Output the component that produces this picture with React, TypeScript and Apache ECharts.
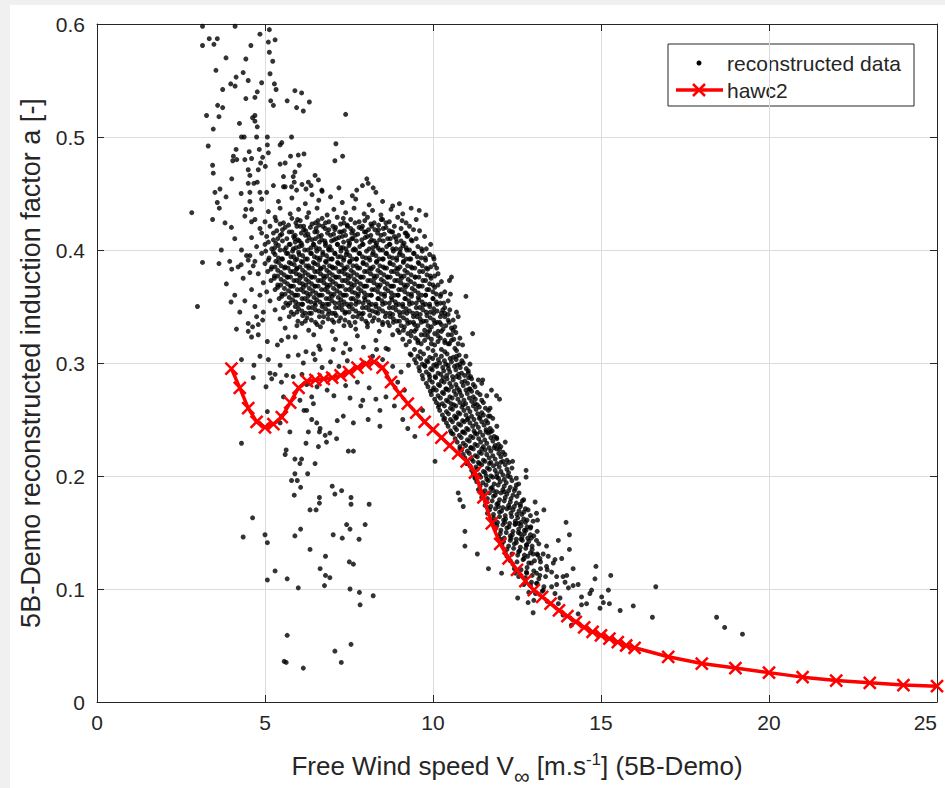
import React, { useEffect, useRef } from "react";
import * as echarts from "echarts";

// ---------------- HAWC2 curve ----------------
const hawcWind = [
  4, 4.25, 4.5, 4.75, 5, 5.25, 5.5, 5.75, 6, 6.25, 6.5, 6.75, 7, 7.25, 7.5, 7.75, 8, 8.25, 8.5, 8.75,
  9, 9.25, 9.5, 9.75, 10, 10.25, 10.5, 10.75, 11, 11.25, 11.5, 11.75, 12, 12.25, 12.5, 12.75, 13, 13.25,
  13.5, 13.75, 14, 14.25, 14.5, 14.75, 15, 15.25, 15.5, 15.75, 16, 17, 18, 19, 20, 21, 22, 23, 24, 25,
];
const hawcA = [
  0.295, 0.278, 0.26, 0.248, 0.243, 0.246, 0.252, 0.265, 0.278, 0.284, 0.285, 0.286, 0.287, 0.289, 0.292,
  0.296, 0.299, 0.301, 0.296, 0.283, 0.273, 0.264, 0.256, 0.248, 0.241, 0.234, 0.227, 0.22, 0.213, 0.203,
  0.181, 0.158, 0.14, 0.127, 0.117, 0.107, 0.099, 0.093, 0.087, 0.081, 0.076, 0.071, 0.066, 0.062, 0.059,
  0.056, 0.053, 0.05, 0.048, 0.04, 0.034, 0.03, 0.026, 0.022, 0.019, 0.017, 0.015, 0.014,
];

// ---------------- reconstructed data ----------------
const sparseUpper: number[][] = [
  [3.14,.598],[4.11,.598],[3.34,.587],[3.58,.587],[3.14,.581],[3.48,.582],[4.85,.591],[5.13,.595],[5.10,.584],[5.30,.586],
  [4.58,.581],[5.13,.575],[3.84,.570],[4.43,.569],[5.23,.567],[3.54,.559],[4.35,.557],[5.15,.556],[4.14,.553],[4.50,.550],
  [3.98,.547],[4.11,.545],[4.90,.548],[5.28,.547],[5.33,.542],[3.74,.542],[4.77,.540],[5.89,.541],[6.09,.539],[4.70,.535],
  [4.43,.534],[5.17,.532],[5.25,.528],[5.66,.532],[6.32,.531],[5.94,.526],[6.14,.523],[3.59,.528],[3.74,.526],[3.26,.519],
  [3.63,.518],[4.63,.517],[4.70,.519],[4.70,.514],[4.77,.509],[4.24,.512],[3.46,.507],[7.40,.520],[4.30,.500],[4.38,.500],
  [4.75,.500],[5.07,.500],[5.79,.500],[3.31,.492],[4.14,.489],[4.53,.487],[4.83,.489],[5.07,.493],[5.45,.493],[5.50,.495],
  [4.06,.483],[4.16,.480],[4.04,.479],[4.40,.480],[4.60,.481],[4.93,.482],[5.10,.486],[5.76,.483],[5.99,.484],[6.16,.485],
  [7.11,.494],[7.08,.479],[7.31,.483],[3.44,.475],[3.46,.468],[4.50,.471],[4.80,.471],[4.87,.477],[5.01,.474],[5.45,.476],
  [5.60,.477],[5.89,.469],[6.02,.475],[4.01,.463],[4.55,.466],[4.50,.459],[4.67,.459],[4.77,.460],[5.55,.465],[5.84,.465],
  [5.87,.460],[6.29,.460],[6.49,.466],[6.59,.462],[8.03,.463],[8.07,.459],[8.22,.455],[3.51,.451],[3.66,.454],[4.29,.450],
  [4.55,.451],[4.85,.451],[5.05,.451],[5.25,.457],[5.55,.456],[5.79,.456],[5.94,.453],[6.22,.454],[6.37,.457],[6.69,.453],
  [7.73,.453],[2.82,.433],[3.58,.442],[3.64,.437],[3.84,.447],[3.44,.427],[3.81,.424],[4.43,.436],[4.55,.443],[9.59,.435],
  [9.79,.431],
];

const leftFringe: number[][] = [
  [2.99,.350],[3.14,.389],[3.63,.388],[3.99,.354],[4.01,.383],[4.29,.387],[4.50,.391],[4.30,.303],[4.67,.298],[4.65,.287],
  [4.30,.229],[5.03,.279],[5.15,.291],[5.07,.257],[4.60,.323],[4.63,.332],[4.50,.328],[4.80,.334],[4.75,.341],[4.93,.338],
  [5.07,.319],[5.37,.316],[5.49,.320],[5.69,.323],[4.10,.410],[4.30,.400],[4.45,.395],[4.20,.385],[3.95,.390],[4.35,.375],
  [4.55,.380],[4.10,.360],[4.40,.355],[4.60,.365],[4.25,.345],[4.70,.350],[4.50,.335],[4.80,.325],[4.15,.330],[3.85,.370],
  [3.70,.400],[4.00,.420],[4.60,.425],[4.85,.360],[4.95,.345],[4.70,.390],[4.90,.415],[4.40,.430],
];

const coreCloud: number[][] = [
  [5.6,.456],[6.1,.458],[6.7,.452],[7.2,.455],[7.9,.457],[8.3,.451],[6.4,.449],[7.6,.448],
  [4.9,.445],[5.4,.443],[5.8,.446],[6.2,.441],[6.6,.444],[6.95,.447],[7.3,.442],[7.7,.445],[8.1,.440],[8.5,.443],[8.8,.439],[9.0,.441],
  [4.6,.436],[5.1,.434],[5.45,.437],[5.75,.432],[6.0,.436],[6.3,.433],[6.55,.437],[6.85,.431],[7.05,.436],[7.4,.433],[7.65,.437],[7.95,.432],[8.2,.435],[8.45,.431],[8.75,.436],[9.1,.432],[9.35,.437],
  [4.7,.427],[5.0,.425],[5.3,.429],[5.55,.424],[5.8,.428],[6.05,.426],[6.25,.429],[6.5,.424],[6.7,.428],[6.9,.425],[7.15,.429],[7.35,.424],[7.55,.427],[7.8,.425],[8.05,.429],[8.25,.424],[8.5,.427],[8.7,.425],[8.95,.429],[9.2,.424],[9.5,.427],
  [4.85,.419],[5.15,.421],[5.35,.417],[5.6,.420],[5.8,.416],[5.95,.421],[6.15,.418],[6.35,.420],[6.55,.416],[6.72,.421],[6.9,.418],[7.1,.420],[7.28,.416],[7.45,.421],[7.62,.417],[7.8,.420],[8.0,.416],[8.18,.421],[8.38,.418],[8.6,.420],[8.8,.416],[9.05,.419],[9.3,.421],[9.6,.417],
  [4.6,.411],[5.05,.412],[5.25,.409],[5.45,.413],[5.65,.410],[5.85,.412],[6.02,.408],[6.2,.413],[6.4,.409],[6.6,.412],[6.78,.408],[6.95,.413],[7.12,.410],[7.3,.412],[7.48,.408],[7.68,.413],[7.88,.409],[8.05,.412],[8.25,.408],[8.45,.413],[8.65,.410],[8.85,.412],[9.05,.408],[9.25,.413],[9.5,.410],[9.75,.412],
  [4.75,.403],[5.0,.405],[5.2,.401],[5.4,.404],[5.58,.400],[5.75,.405],[5.92,.402],[6.1,.404],[6.28,.400],[6.45,.405],[6.62,.401],[6.8,.404],[6.98,.400],[7.15,.405],[7.32,.402],[7.5,.404],[7.7,.400],[7.9,.405],[8.1,.401],[8.3,.404],[8.5,.400],[8.7,.405],[8.9,.401],[9.1,.404],[9.3,.400],[9.55,.403],[9.8,.401],
  [4.55,.395],[4.9,.397],[5.12,.393],[5.3,.396],[5.5,.392],[5.68,.397],[5.85,.394],[6.02,.396],[6.2,.392],[6.38,.397],[6.55,.393],[6.72,.396],[6.9,.392],[7.08,.397],[7.25,.394],[7.42,.396],[7.6,.392],[7.8,.397],[8.0,.393],[8.2,.396],[8.4,.392],[8.6,.397],[8.8,.393],[9.0,.396],[9.2,.392],[9.42,.397],[9.65,.393],[9.9,.396],
  [4.65,.386],[5.0,.388],[5.2,.385],[5.4,.389],[5.6,.385],[5.78,.388],[5.95,.384],[6.12,.389],[6.3,.386],[6.48,.388],[6.65,.384],[6.82,.389],[7.0,.385],[7.18,.388],[7.35,.384],[7.52,.389],[7.72,.386],[7.92,.388],[8.12,.384],[8.32,.389],[8.52,.385],[8.72,.388],[8.92,.384],[9.12,.389],[9.35,.385],[9.58,.388],[9.8,.384],[10.05,.387],
  [4.8,.379],[5.08,.381],[5.28,.377],[5.48,.380],[5.66,.376],[5.84,.381],[6.02,.378],[6.2,.380],[6.38,.376],[6.56,.381],[6.74,.377],[6.92,.380],[7.1,.376],[7.28,.381],[7.46,.378],[7.64,.380],[7.84,.376],[8.04,.381],[8.24,.377],[8.44,.380],[8.64,.376],[8.84,.381],[9.04,.377],[9.24,.380],[9.46,.376],[9.7,.381],[9.92,.377],[10.15,.379],
  [4.95,.371],[5.18,.373],[5.38,.369],[5.58,.372],[5.76,.368],[5.94,.373],[6.12,.370],[6.3,.372],[6.48,.368],[6.66,.373],[6.84,.369],[7.02,.372],[7.2,.368],[7.38,.373],[7.56,.370],[7.74,.372],[7.94,.368],[8.14,.373],[8.34,.369],[8.54,.372],[8.74,.368],[8.94,.373],[9.14,.369],[9.34,.372],[9.56,.368],[9.78,.373],[10.0,.369],[10.25,.372],
  [5.05,.363],[5.3,.365],[5.5,.361],[5.7,.364],[5.88,.360],[6.06,.365],[6.24,.362],[6.42,.364],[6.6,.360],[6.78,.365],[6.96,.361],[7.14,.364],[7.32,.360],[7.5,.365],[7.68,.362],[7.86,.364],[8.06,.360],[8.26,.365],[8.46,.361],[8.66,.364],[8.86,.360],[9.06,.365],[9.26,.361],[9.46,.364],[9.66,.360],[9.88,.365],[10.1,.361],[10.35,.363],
  [5.15,.355],[5.42,.357],[5.62,.353],[5.82,.356],[6.0,.352],[6.18,.357],[6.36,.354],[6.54,.356],[6.72,.352],[6.9,.357],[7.08,.353],[7.26,.356],[7.44,.352],[7.62,.357],[7.8,.354],[7.98,.356],[8.18,.352],[8.38,.357],[8.58,.353],[8.78,.356],[8.98,.352],[9.18,.357],[9.38,.353],[9.58,.356],[9.78,.352],[10.0,.357],[10.22,.353],[10.45,.355],
  [5.3,.347],[5.55,.349],[5.78,.345],[6.0,.348],[6.2,.344],[6.4,.349],[6.6,.346],[6.8,.348],[7.0,.344],[7.2,.349],[7.4,.345],[7.6,.348],[7.8,.344],[8.0,.349],[8.2,.346],[8.4,.348],[8.6,.344],[8.8,.349],[9.0,.345],[9.2,.348],[9.4,.344],[9.6,.349],[9.8,.345],[10.02,.348],[10.25,.344],[10.5,.347],
  [5.45,.339],[5.72,.341],[5.98,.337],[6.25,.340],[6.5,.336],[6.75,.341],[7.0,.338],[7.25,.340],[7.5,.336],[7.75,.341],[8.0,.337],[8.25,.340],[8.5,.336],[8.72,.341],[8.92,.337],[9.12,.340],[9.32,.336],[9.52,.341],[9.72,.337],[9.92,.340],[10.12,.336],[10.35,.341],[10.6,.338],
  [5.6,.331],[5.95,.333],[6.3,.329],[6.65,.332],[7.0,.328],[7.35,.333],[7.7,.330],[8.05,.332],[8.4,.328],[8.7,.333],[8.95,.329],[9.15,.332],[9.35,.328],[9.55,.333],[9.75,.329],[9.95,.332],[10.15,.328],[10.38,.333],[10.6,.329],
  [5.9,.323],[6.45,.325],[7.1,.321],[7.75,.324],[8.3,.320],[8.8,.325],[9.1,.321],[9.35,.324],[9.55,.320],[9.75,.325],[9.95,.321],[10.15,.324],[10.35,.320],[10.55,.325],[10.8,.322],
  [6.6,.315],[7.4,.317],[8.6,.313],[9.2,.316],[9.45,.312],[9.65,.317],[9.85,.313],[10.05,.316],[10.25,.312],[10.45,.317],[10.65,.313],[10.88,.316],
];

const coreDense: number[][] = [
  [5.45,.423],[5.7,.422],[5.92,.424],[6.15,.421],[6.4,.423],[6.6,.422],[6.8,.424],[7.02,.421],[7.25,.423],[7.45,.422],[7.68,.424],[7.9,.421],[8.15,.423],[8.38,.422],[8.6,.424],[8.85,.421],
  [5.25,.415],[5.5,.414],[5.72,.416],[5.9,.413],[6.08,.415],[6.28,.414],[6.48,.416],[6.68,.413],[6.86,.415],[7.04,.414],[7.22,.416],[7.4,.413],[7.58,.415],[7.76,.414],[7.96,.416],[8.15,.413],[8.35,.415],[8.55,.414],[8.76,.416],[8.98,.413],[9.2,.415],
  [5.1,.407],[5.32,.406],[5.52,.408],[5.72,.405],[5.9,.407],[6.08,.406],[6.26,.408],[6.44,.405],[6.62,.407],[6.8,.406],[6.98,.408],[7.16,.405],[7.34,.407],[7.52,.406],[7.72,.408],[7.92,.405],[8.12,.407],[8.32,.406],[8.52,.408],[8.72,.405],[8.92,.407],[9.14,.406],[9.38,.408],
  [5.02,.399],[5.25,.398],[5.45,.400],[5.64,.397],[5.82,.399],[6.0,.398],[6.18,.400],[6.36,.397],[6.54,.399],[6.72,.398],[6.9,.400],[7.08,.397],[7.26,.399],[7.44,.398],[7.62,.400],[7.82,.397],[8.02,.399],[8.22,.398],[8.42,.400],[8.62,.397],[8.82,.399],[9.02,.398],[9.22,.400],[9.44,.397],[9.68,.399],
  [5.1,.391],[5.32,.390],[5.52,.392],[5.72,.389],[5.9,.391],[6.08,.390],[6.26,.392],[6.44,.389],[6.62,.391],[6.8,.390],[6.98,.392],[7.16,.389],[7.34,.391],[7.52,.390],[7.72,.392],[7.92,.389],[8.12,.391],[8.32,.390],[8.52,.392],[8.72,.389],[8.92,.391],[9.12,.390],[9.34,.392],[9.56,.389],[9.78,.391],
  [5.18,.383],[5.38,.382],[5.58,.384],[5.76,.381],[5.94,.383],[6.12,.382],[6.3,.384],[6.48,.381],[6.66,.383],[6.84,.382],[7.02,.384],[7.2,.381],[7.38,.383],[7.56,.382],[7.76,.384],[7.96,.381],[8.16,.383],[8.36,.382],[8.56,.384],[8.76,.381],[8.96,.383],[9.16,.382],[9.38,.384],[9.6,.381],[9.84,.383],
  [5.28,.375],[5.48,.374],[5.68,.376],[5.86,.373],[6.04,.375],[6.22,.374],[6.4,.376],[6.58,.373],[6.76,.375],[6.94,.374],[7.12,.376],[7.3,.373],[7.48,.375],[7.66,.374],[7.86,.376],[8.06,.373],[8.26,.375],[8.46,.374],[8.66,.376],[8.86,.373],[9.06,.375],[9.26,.374],[9.48,.376],[9.7,.373],[9.94,.375],
  [5.38,.367],[5.58,.366],[5.78,.368],[5.96,.365],[6.14,.367],[6.32,.366],[6.5,.368],[6.68,.365],[6.86,.367],[7.04,.366],[7.22,.368],[7.4,.365],[7.58,.367],[7.78,.366],[7.98,.368],[8.18,.365],[8.38,.367],[8.58,.366],[8.78,.368],[8.98,.365],[9.18,.367],[9.38,.366],[9.6,.368],[9.82,.365],[10.05,.367],
  [5.5,.359],[5.72,.358],[5.92,.360],[6.1,.357],[6.28,.359],[6.46,.358],[6.64,.360],[6.82,.357],[7.0,.359],[7.18,.358],[7.36,.360],[7.56,.357],[7.76,.359],[7.96,.358],[8.16,.360],[8.36,.357],[8.56,.359],[8.76,.358],[8.96,.360],[9.16,.357],[9.36,.359],[9.56,.358],[9.78,.360],[10.0,.357],[10.22,.359],
  [5.68,.351],[5.9,.350],[6.1,.352],[6.3,.349],[6.5,.351],[6.7,.350],[6.9,.352],[7.1,.349],[7.3,.351],[7.5,.350],[7.7,.352],[7.9,.349],[8.1,.351],[8.3,.350],[8.5,.352],[8.7,.349],[8.9,.351],[9.1,.350],[9.3,.352],[9.5,.349],[9.7,.351],[9.9,.350],[10.12,.352],[10.35,.349],
  [5.85,.343],[6.12,.342],[6.38,.344],[6.62,.341],[6.88,.343],[7.12,.342],[7.38,.344],[7.62,.341],[7.88,.343],[8.12,.342],[8.36,.344],[8.58,.341],[8.8,.343],[9.02,.342],[9.22,.344],[9.42,.341],[9.62,.343],[9.82,.342],[10.02,.344],[10.22,.341],[10.45,.343],
  [6.1,.335],[6.55,.334],[7.05,.336],[7.55,.333],[8.05,.335],[8.5,.334],[8.82,.336],[9.05,.333],[9.25,.335],[9.45,.334],[9.65,.336],[9.85,.333],[10.05,.335],[10.25,.334],[10.48,.336],
  [9.0,.327],[9.25,.326],[9.45,.328],[9.65,.325],[9.85,.327],[10.05,.326],[10.25,.328],[10.45,.325],[10.68,.327],
  [9.3,.319],[9.55,.318],[9.75,.320],[9.95,.317],[10.15,.319],[10.35,.318],[10.55,.320],[10.75,.317],
];

const coreFill: number[][] = [
  [6.05,.421],[6.52,.419],[7.08,.418],[7.55,.419],[8.08,.418],[8.52,.419],
  [5.88,.410],[6.31,.411],[6.69,.409],[7.2,.411],[7.61,.410],[7.98,.411],[8.41,.409],[8.9,.410],
  [5.63,.402],[6.02,.403],[6.52,.402],[6.93,.403],[7.41,.401],[7.82,.403],[8.21,.402],[8.62,.403],[9.03,.401],
  [5.77,.394],[6.12,.395],[6.47,.394],[6.83,.395],[7.17,.394],[7.52,.395],[7.9,.394],[8.3,.395],[8.7,.394],[9.1,.395],[9.53,.394],
  [5.48,.386],[5.87,.387],[6.22,.386],[6.57,.387],[6.92,.386],[7.27,.387],[7.62,.386],[8.02,.387],[8.42,.386],[8.82,.387],[9.24,.386],[9.68,.386],
  [5.57,.378],[5.93,.379],[6.29,.378],[6.65,.379],[7.01,.378],[7.37,.379],[7.74,.378],[8.14,.379],[8.54,.378],[8.94,.379],[9.35,.378],[9.82,.378],
  [5.67,.370],[6.03,.371],[6.39,.370],[6.75,.371],[7.11,.370],[7.47,.371],[7.84,.370],[8.24,.371],[8.64,.370],[9.04,.371],[9.45,.370],[9.9,.370],
  [5.79,.362],[6.15,.363],[6.51,.362],[6.87,.363],[7.23,.362],[7.59,.363],[7.96,.362],[8.36,.363],[8.76,.362],[9.16,.363],[9.56,.362],[10.0,.363],
  [5.91,.354],[6.27,.355],[6.63,.354],[6.99,.355],[7.35,.354],[7.71,.355],[8.08,.354],[8.48,.355],[8.88,.354],[9.28,.355],[9.68,.354],[10.1,.354],
  [6.1,.346],[6.5,.347],[6.9,.346],[7.3,.347],[7.7,.346],[8.1,.347],[8.5,.346],[8.9,.347],[9.3,.346],[9.7,.347],[10.12,.346],
  [6.38,.338],[6.88,.339],[7.38,.338],[7.88,.339],[8.38,.338],[8.82,.339],[9.22,.338],[9.62,.339],[10.02,.338],[10.45,.338],
];

const coreExtra: number[][] = [
  [5.33,.426],[5.97,.427],[6.58,.426],[7.33,.428],[7.97,.426],[8.46,.427],[9.08,.426],
  [5.52,.418],[6.21,.417],[6.79,.419],[7.36,.417],[7.87,.419],[8.27,.418],[8.7,.417],[9.42,.418],
  [5.38,.410],[5.98,.409],[6.5,.410],[7.05,.409],[7.58,.410],[8.17,.409],[8.73,.410],[9.35,.409],
  [5.29,.402],[5.84,.401],[6.37,.402],[6.89,.401],[7.25,.402],[7.66,.401],[8.36,.402],[8.8,.401],[9.2,.402],[9.66,.401],
  [5.4,.393],[5.95,.392],[6.64,.393],[7.0,.392],[7.35,.393],[7.72,.392],[8.1,.393],[8.5,.392],[8.92,.393],[9.3,.392],[9.77,.393],
  [5.3,.385],[5.69,.384],[6.04,.385],[6.41,.384],[6.75,.385],[7.1,.384],[7.45,.385],[7.82,.384],[8.22,.385],[8.62,.384],[9.02,.385],[9.46,.384],[9.93,.385],
  [5.38,.377],[5.76,.376],[6.12,.377],[6.48,.376],[6.84,.377],[7.2,.376],[7.56,.377],[7.93,.376],[8.33,.377],[8.73,.376],[9.14,.377],[9.58,.376],[10.05,.377],
  [5.47,.369],[5.85,.368],[6.22,.369],[6.58,.368],[6.94,.369],[7.3,.368],[7.66,.369],[8.03,.368],[8.43,.369],[8.83,.368],[9.24,.369],[9.68,.368],[10.15,.369],
  [5.6,.361],[5.98,.360],[6.35,.361],[6.7,.360],[7.06,.361],[7.42,.360],[7.78,.361],[8.16,.360],[8.56,.361],[8.96,.360],[9.36,.361],[9.78,.360],[10.24,.361],
  [5.74,.353],[6.12,.352],[6.48,.353],[6.84,.352],[7.2,.353],[7.56,.352],[7.92,.353],[8.3,.352],[8.7,.353],[9.1,.352],[9.5,.353],[9.9,.352],[10.32,.353],
  [5.95,.345],[6.32,.344],[6.7,.345],[7.08,.344],[7.5,.345],[7.92,.344],[8.3,.345],[8.72,.344],[9.12,.345],[9.52,.344],[9.92,.345],[10.35,.344],
  [6.2,.337],[6.72,.336],[7.2,.337],[7.68,.336],[8.2,.337],[8.65,.336],[9.0,.337],[9.42,.336],[9.8,.337],[10.2,.336],
  [9.12,.329],[9.5,.330],[9.9,.329],[10.3,.330],[10.55,.331],
  [9.48,.322],[9.85,.323],[10.22,.322],[10.62,.321],
];

const bandPoints: number[][] = [
  [9.35,.307],[9.55,.306],[9.72,.308],[9.9,.305],[10.08,.307],[10.25,.306],[10.42,.308],[10.6,.305],[10.78,.307],[10.98,.306],
  [9.5,.300],[9.68,.299],[9.85,.301],[10.02,.298],[10.2,.300],[10.38,.299],[10.55,.301],[10.72,.298],[10.9,.300],[11.1,.299],
  [9.6,.293],[9.8,.292],[9.98,.294],[10.15,.291],[10.32,.293],[10.5,.292],[10.68,.294],[10.85,.291],[11.05,.293],
  [9.7,.286],[9.9,.285],[10.08,.287],[10.25,.284],[10.42,.286],[10.6,.285],[10.78,.287],[10.95,.284],[11.15,.286],[11.35,.285],
  [9.85,.279],[10.02,.278],[10.2,.280],[10.38,.277],[10.55,.279],[10.72,.278],[10.9,.280],[11.08,.277],[11.25,.279],
  [9.95,.272],[10.15,.271],[10.32,.273],[10.5,.270],[10.68,.272],[10.85,.271],[11.02,.273],[11.2,.270],[11.4,.272],[11.6,.271],
  [10.1,.265],[10.28,.264],[10.45,.266],[10.62,.263],[10.8,.265],[10.97,.264],[11.15,.266],[11.32,.263],[11.5,.265],
  [10.2,.258],[10.4,.257],[10.58,.259],[10.75,.256],[10.92,.258],[11.1,.257],[11.28,.259],[11.45,.256],[11.65,.258],
  [10.35,.251],[10.52,.250],[10.7,.252],[10.88,.249],[11.05,.251],[11.22,.250],[11.4,.252],[11.58,.249],[11.78,.251],
  [10.45,.244],[10.65,.243],[10.82,.245],[11.0,.242],[11.18,.244],[11.35,.243],[11.52,.245],[11.7,.242],[11.9,.244],
  [10.6,.237],[10.78,.236],[10.95,.238],[11.12,.235],[11.3,.237],[11.48,.236],[11.65,.238],[11.82,.235],
  [10.72,.230],[10.9,.229],[11.08,.231],[11.25,.228],[11.42,.230],[11.6,.229],[11.78,.231],[11.95,.228],[12.15,.230],
  [10.85,.223],[11.02,.222],[11.2,.224],[11.38,.221],[11.55,.223],[11.72,.222],[11.9,.224],[12.08,.221],
  [10.95,.216],[11.15,.215],[11.32,.217],[11.5,.214],[11.67,.216],[11.85,.215],[12.02,.217],[12.2,.214],
  [11.1,.209],[11.28,.208],[11.45,.210],[11.62,.207],[11.8,.209],[11.97,.208],[12.15,.210],[12.35,.207],
  [11.2,.202],[11.38,.201],[11.55,.203],[11.72,.200],[11.9,.202],[12.08,.201],[12.25,.203],
  [11.3,.195],[11.48,.194],[11.65,.196],[11.82,.193],[12.0,.195],[12.18,.194],[12.35,.196],[12.55,.193],
  [11.35,.188],[11.55,.187],[11.72,.189],[11.9,.186],[12.08,.188],[12.25,.187],[12.45,.189],
  [11.45,.181],[11.62,.180],[11.8,.182],[11.98,.179],[12.15,.181],[12.32,.180],[12.5,.182],[12.7,.179],
  [11.55,.174],[11.72,.173],[11.9,.175],[12.08,.172],[12.25,.174],[12.42,.173],[12.6,.175],
  [11.62,.167],[11.8,.166],[11.98,.168],[12.15,.165],[12.32,.167],[12.5,.166],[12.7,.168],[12.9,.165],
  [11.75,.160],[11.92,.159],[12.1,.161],[12.28,.158],[12.45,.160],[12.62,.159],[12.8,.161],
  [11.85,.153],[12.02,.152],[12.2,.154],[12.38,.151],[12.55,.153],[12.72,.152],[12.9,.154],[13.1,.151],
  [11.95,.146],[12.12,.145],[12.3,.147],[12.48,.144],[12.65,.146],[12.82,.145],[13.0,.147],
  [12.05,.139],[12.25,.138],[12.42,.140],[12.6,.137],[12.78,.139],[12.95,.138],[13.15,.140],
  [12.15,.132],[12.35,.131],[12.55,.133],[12.72,.130],[12.9,.132],[13.1,.131],
  [12.3,.125],[12.5,.124],[12.68,.126],[12.85,.123],[13.02,.125],[13.2,.124],
  [12.42,.118],[12.62,.117],[12.8,.119],[13.0,.116],[13.2,.118],[13.4,.117],
  [12.55,.111],[12.75,.110],[12.95,.112],[13.15,.109],[13.35,.111],
  [12.7,.104],[12.9,.103],[13.1,.105],[13.3,.102],
  [12.85,.097],[13.05,.096],[13.25,.098],
  [13.0,.090],[13.4,.089],
];

const bandDense: number[][] = [
  [9.45,.303],[9.63,.304],[9.81,.302],[9.99,.304],[10.16,.303],[10.34,.302],[10.51,.304],[10.69,.303],[10.86,.302],
  [9.58,.296],[9.76,.297],[9.93,.295],[10.11,.297],[10.29,.296],[10.46,.295],[10.64,.297],[10.81,.296],[10.99,.295],
  [9.68,.289],[9.88,.290],[10.06,.288],[10.23,.290],[10.41,.289],[10.58,.288],[10.76,.290],[10.94,.289],[11.12,.288],
  [9.8,.282],[9.98,.283],[10.16,.281],[10.33,.283],[10.5,.282],[10.68,.281],[10.86,.283],[11.03,.282],[11.2,.281],
  [9.92,.275],[10.1,.276],[10.28,.274],[10.46,.276],[10.63,.275],[10.8,.274],[10.98,.276],[11.15,.275],[11.32,.274],
  [10.05,.268],[10.22,.269],[10.4,.267],[10.57,.269],[10.74,.268],[10.92,.267],[11.08,.269],[11.26,.268],[11.45,.267],
  [10.16,.261],[10.34,.262],[10.52,.260],[10.68,.262],[10.86,.261],[11.04,.260],[11.2,.262],[11.38,.261],[11.56,.260],
  [10.28,.254],[10.46,.255],[10.64,.253],[10.8,.255],[10.98,.254],[11.15,.253],[11.33,.255],[11.5,.254],[11.7,.253],
  [10.4,.247],[10.58,.248],[10.76,.246],[10.93,.248],[11.1,.247],[11.28,.246],[11.45,.248],[11.63,.247],
  [10.52,.240],[10.7,.241],[10.88,.239],[11.05,.241],[11.22,.240],[11.4,.239],[11.58,.241],[11.76,.240],
  [10.66,.233],[10.84,.234],[11.02,.232],[11.19,.234],[11.36,.233],[11.54,.232],[11.72,.234],[11.9,.233],
  [10.8,.226],[10.97,.227],[11.14,.225],[11.32,.227],[11.5,.226],[11.67,.225],[11.85,.227],[12.02,.226],
  [10.9,.219],[11.08,.220],[11.26,.218],[11.44,.220],[11.6,.219],[11.78,.218],[11.96,.220],[12.14,.219],
  [11.03,.212],[11.2,.213],[11.38,.211],[11.55,.213],[11.72,.212],[11.9,.211],[12.08,.213],[12.26,.212],
  [11.15,.205],[11.32,.206],[11.5,.204],[11.68,.206],[11.85,.205],[12.02,.204],[12.2,.206],
  [11.25,.198],[11.42,.199],[11.6,.197],[11.78,.199],[11.95,.198],[12.12,.197],[12.3,.199],[12.48,.198],
  [11.4,.191],[11.58,.192],[11.76,.190],[11.94,.192],[12.12,.191],[12.3,.190],[12.48,.192],
  [11.5,.184],[11.68,.185],[11.85,.183],[12.02,.185],[12.2,.184],[12.38,.183],[12.56,.185],
  [11.58,.177],[11.76,.178],[11.94,.176],[12.12,.178],[12.3,.177],[12.48,.176],[12.66,.178],
  [11.68,.170],[11.86,.171],[12.04,.169],[12.2,.171],[12.38,.170],[12.56,.169],[12.75,.171],
  [11.8,.163],[11.98,.164],[12.16,.162],[12.34,.164],[12.52,.163],[12.7,.162],
  [11.9,.156],[12.08,.157],[12.26,.155],[12.44,.157],[12.62,.156],[12.8,.155],
  [12.0,.149],[12.18,.150],[12.36,.148],[12.54,.150],[12.72,.149],[12.9,.148],
  [12.1,.142],[12.3,.143],[12.48,.141],[12.66,.143],[12.85,.142],
  [12.2,.135],[12.4,.136],[12.58,.134],[12.76,.136],[12.95,.135],
];

const bandExtra: number[][] = [
  [9.62,.310],[10.0,.311],[10.35,.310],[10.7,.311],
  [9.75,.298],[10.1,.299],[10.45,.298],[10.8,.299],
  [9.9,.288],[10.3,.287],[10.7,.288],[11.06,.287],
  [10.0,.276],[10.4,.277],[10.78,.276],[11.1,.277],
  [10.18,.263],[10.54,.264],[10.9,.263],[11.25,.264],
  [10.32,.250],[10.68,.251],[11.02,.250],[11.38,.251],
  [10.55,.238],[10.9,.239],[11.25,.238],[11.58,.239],
  [10.8,.224],[11.12,.225],[11.45,.224],[11.82,.225],
  [11.0,.211],[11.35,.212],[11.68,.211],[12.02,.212],
  [11.25,.199],[11.58,.200],[11.9,.199],[12.22,.200],
  [11.45,.186],[11.8,.187],[12.12,.186],[12.42,.187],
  [11.62,.172],[11.95,.173],[12.28,.172],[12.6,.173],
  [11.82,.158],[12.14,.159],[12.45,.158],[12.75,.159],
  [12.0,.144],[12.32,.145],[12.62,.144],[12.92,.145],
  [12.2,.129],[12.52,.130],[12.82,.129],[13.12,.130],
  [12.45,.114],[12.78,.115],[13.08,.114],
];

const bandScatter: number[][] = [
  [9.17,.415],[9.23,.412],[9.93,.405],[10.01,.394],[10.03,.392],[10.11,.384],[10.49,.373],[10.55,.376],[10.52,.361],[10.98,.359],
  [10.29,.347],[10.70,.345],[10.75,.341],[11.18,.326],[10.65,.332],[10.49,.317],[10.70,.306],[11.05,.291],[11.48,.285],[11.74,.276],
  [11.98,.268],[11.89,.271],[11.45,.282],[11.70,.260],[11.65,.253],[11.71,.239],[11.89,.234],[11.98,.224],[10.06,.213],[12.37,.213],
  [12.77,.205],[12.77,.199],[13.04,.177],[13.30,.170],[13.11,.161],[13.96,.159],[14.06,.148],[13.73,.143],[14.06,.135],[13.38,.138],
  [13.43,.129],[10.95,.151],[10.95,.138],[11.32,.131],[11.65,.118],[12.04,.114],[10.80,.179],[10.90,.173],[10.75,.185],[14.17,.118],
  [14.85,.120],[14.82,.109],[15.29,.112],[16.63,.102],[15.96,.085],[16.53,.075],[15.57,.081],[15.22,.099],[15.25,.087],[15.02,.093],
  [14.97,.083],[14.72,.099],[14.67,.096],[14.57,.087],[14.42,.093],[14.42,.086],[14.17,.103],[14.32,.104],[14.32,.078],[14.12,.068],
  [13.87,.077],[13.73,.087],[13.78,.092],[13.63,.096],[13.53,.102],[13.68,.104],[12.98,.079],[12.83,.088],[12.52,.092],[12.93,.106],
  [13.18,.112],[13.08,.105],[13.28,.099],[13.98,.112],[13.93,.106],[14.03,.101],[13.38,.120],[13.58,.123],[13.53,.115],[13.18,.127],
  [13.28,.131],[13.63,.126],[13.83,.127],[13.87,.111],[13.68,.111],[12.79,.114],[12.93,.123],[12.71,.127],[12.98,.131],[13.08,.143],
  [12.79,.139],[12.77,.152],[12.91,.155],[12.59,.149],[12.54,.158],[12.64,.166],[13.08,.167],[12.98,.160],[12.83,.170],[15.07,.088],
  [18.44,.075],[18.68,.066],[19.21,.060],
];

const lowerScatter: number[][] = [
  [5.79,.196],[5.96,.196],[6.06,.190],[5.87,.183],[7.00,.191],[7.08,.184],[7.28,.187],[6.62,.181],[6.62,.176],[7.56,.181],
  [7.56,.175],[8.10,.175],[6.34,.170],[6.52,.170],[4.63,.163],[4.35,.146],[5.00,.148],[5.07,.141],[6.06,.153],[5.89,.147],
  [7.43,.157],[7.53,.153],[7.98,.157],[7.03,.148],[7.30,.145],[7.80,.144],[6.34,.135],[6.80,.129],[7.51,.124],[7.63,.122],
  [6.64,.118],[5.30,.116],[6.80,.112],[6.93,.110],[5.07,.108],[5.66,.109],[5.99,.101],[6.77,.103],[7.53,.100],[7.81,.097],
  [8.22,.094],[7.83,.086],[5.66,.059],[7.56,.051],[7.08,.045],[5.57,.036],[5.63,.035],[7.27,.035],[6.14,.030],
  [5.45,.298],[5.64,.289],[5.49,.283],[5.30,.290],[6.22,.310],[6.49,.303],[6.14,.300],[6.39,.270],[6.44,.264],[6.24,.258],
  [6.04,.267],[6.16,.258],[6.39,.250],[6.54,.247],[6.64,.242],[6.79,.236],[6.62,.239],[6.93,.238],[6.83,.230],[7.13,.233],
  [6.29,.239],[6.22,.229],[6.59,.226],[5.63,.223],[5.60,.219],[5.89,.215],[6.09,.215],[6.04,.211],[6.49,.211],[5.89,.202],
  [6.27,.202],[7.48,.222],[7.63,.222],[7.33,.253],[7.15,.249],[7.63,.247],[7.53,.269],[7.91,.267],[8.07,.250],[8.42,.244],
  [8.42,.258],[9.46,.235],[9.69,.258],[9.27,.298],[9.32,.308],[8.67,.312],[8.32,.312],[7.93,.314],[7.53,.312],[7.33,.309],
  [7.03,.312],[6.64,.312],[6.44,.308],[5.99,.307],[5.69,.306],[5.10,.303],[4.85,.306],[5.20,.286],[5.84,.288],[6.24,.281],
  [5.55,.270],[5.74,.239],[5.49,.253],[5.45,.247],[5.10,.245],[6.70,.296],[6.95,.301],[7.20,.297],[7.45,.302],[7.70,.296],
  [7.95,.300],[8.20,.306],[8.50,.303],[8.80,.297],[9.05,.292],[8.95,.283],[9.15,.276],[6.85,.276],[7.40,.280],[7.75,.283],
  [8.10,.278],[8.60,.270],[8.85,.262],[9.10,.250],[9.25,.242],[6.10,.290],[6.55,.279],[7.05,.271],[7.85,.262],[8.30,.268],
];

const reconstructed = [
  ...sparseUpper, ...leftFringe, ...coreCloud, ...coreDense, ...coreFill, ...coreExtra,
  ...bandPoints, ...bandDense, ...bandExtra, ...bandScatter, ...lowerScatter,
];

const xTicks = { min: 0, max: 25, interval: 5 };
const yTicks = { min: 0, max: 0.6, interval: 0.1 };

const FONT = "'Liberation Sans', Arial, Helvetica, sans-serif";
const AX = "#262626";
const GRIDC = "#dcdcdc";

export default function App() {
  const ref = useRef<HTMLDivElement>(null);

  useEffect(() => {
    document.body.style.margin = "0";
    const chart = echarts.init(ref.current!, null, { renderer: "svg" });

    const hawcData = hawcWind.map((w, i) => [w, hawcA[i]]);

    const baseAxis = {
      type: "value" as const,
      axisLine: { show: true, onZero: false, lineStyle: { color: AX, width: 1 } },
      axisTick: { show: true, inside: true, length: 7, lineStyle: { color: AX } },
    };

    const option: any = {
      animation: false,
      backgroundColor: "#ffffff",
      textStyle: { fontFamily: FONT },
      grid: {
        left: 87, top: 19, width: 840, height: 678,
        containLabel: false, outerBoundsMode: "none",
      },
      xAxis: [
        {
          ...baseAxis,
          ...xTicks,
          position: "bottom",
          axisLabel: { fontSize: 21, color: AX, margin: 10, fontFamily: FONT, alignMaxLabel: "right" },
          splitLine: { show: true, lineStyle: { color: GRIDC, width: 1 } },
          name: "{b|Free Wind speed V}{sub|∞}{b| [m.s}{sup|-1}{b|] (5B-Demo)}",
          nameLocation: "middle",
          nameGap: 49,
          nameTextStyle: {
            fontSize: 26,
            color: AX,
            fontFamily: FONT,
            rich: {
              b: { fontSize: 26, lineHeight: 30, color: AX, fontFamily: FONT, verticalAlign: "top", padding: [2, 0, 0, 0] },
              sub: { fontSize: 22, lineHeight: 22, color: AX, fontFamily: FONT, verticalAlign: "top", padding: [14, 0, 0, 0] },
              sup: { fontSize: 17, lineHeight: 18, color: AX, fontFamily: FONT, verticalAlign: "top", padding: [0, 0, 0, 0] },
            },
          },
        },
        {
          ...baseAxis,
          ...xTicks,
          position: "top",
          axisLabel: { show: false },
          splitLine: { show: false },
        },
      ],
      yAxis: [
        {
          ...baseAxis,
          ...yTicks,
          position: "left",
          axisLabel: {
            fontSize: 21,
            color: AX,
            margin: 12,
            fontFamily: FONT,
            formatter: (v: number) => (v === 0 ? "0" : v.toFixed(1)),
          },
          splitLine: { show: true, lineStyle: { color: GRIDC, width: 1 } },
          name: "5B-Demo reconstructed induction factor a [-]",
          nameLocation: "middle",
          nameRotate: 90,
          nameGap: 41,
          nameTextStyle: { fontSize: 27, color: AX, fontFamily: FONT },
        },
        {
          ...baseAxis,
          ...yTicks,
          position: "right",
          axisLabel: { show: false },
          splitLine: { show: false },
        },
      ],
      series: [
        {
          name: "reconstructed data",
          type: "scatter",
          data: reconstructed,
          symbol: "circle",
          symbolSize: 5,
          itemStyle: { color: "#000000" },
          silent: true,
          z: 2,
        },
        {
          name: "hawc2",
          type: "line",
          data: hawcData,
          showSymbol: true,
          showAllSymbol: true,
          symbol: "path://M0,0L10,10M10,0L0,10",
          symbolSize: 12,
          itemStyle: { color: "#ff0000", borderColor: "#ff0000", borderWidth: 2.5 },
          lineStyle: { color: "#ff0000", width: 3.5 },
          silent: true,
          z: 3,
        },
      ],
      graphic: [
        {
          type: "group",
          z: 100,
          children: [
            {
              type: "rect",
              shape: { x: 658, y: 39, width: 246, height: 62 },
              style: { fill: "#ffffff", stroke: AX, lineWidth: 1 },
            },
            { type: "circle", shape: { cx: 689, cy: 58, r: 2.5 }, style: { fill: "#000000" } },
            {
              type: "text",
              x: 717,
              y: 58,
              style: { text: "reconstructed data", fill: AX, font: `21px ${FONT}`, verticalAlign: "middle" },
            },
            {
              type: "line",
              shape: { x1: 666, y1: 85, x2: 713, y2: 85 },
              style: { stroke: "#ff0000", lineWidth: 3.5 },
            },
            {
              type: "line",
              shape: { x1: 683, y1: 79, x2: 695, y2: 91 },
              style: { stroke: "#ff0000", lineWidth: 2.5 },
            },
            {
              type: "line",
              shape: { x1: 695, y1: 79, x2: 683, y2: 91 },
              style: { stroke: "#ff0000", lineWidth: 2.5 },
            },
            {
              type: "text",
              x: 717,
              y: 85,
              style: { text: "hawc2", fill: AX, font: `21px ${FONT}`, verticalAlign: "middle" },
            },
          ],
        },
      ],
    };

    chart.setOption(option);
    return () => chart.dispose();
  }, []);

  return (
    <div style={{ width: 945, height: 788, background: "#f0f0f0", position: "relative", overflow: "hidden" }}>
      <div
        ref={ref}
        style={{ position: "absolute", left: 10, top: 5, width: 935, height: 783, background: "#ffffff" }}
      />
    </div>
  );
}
